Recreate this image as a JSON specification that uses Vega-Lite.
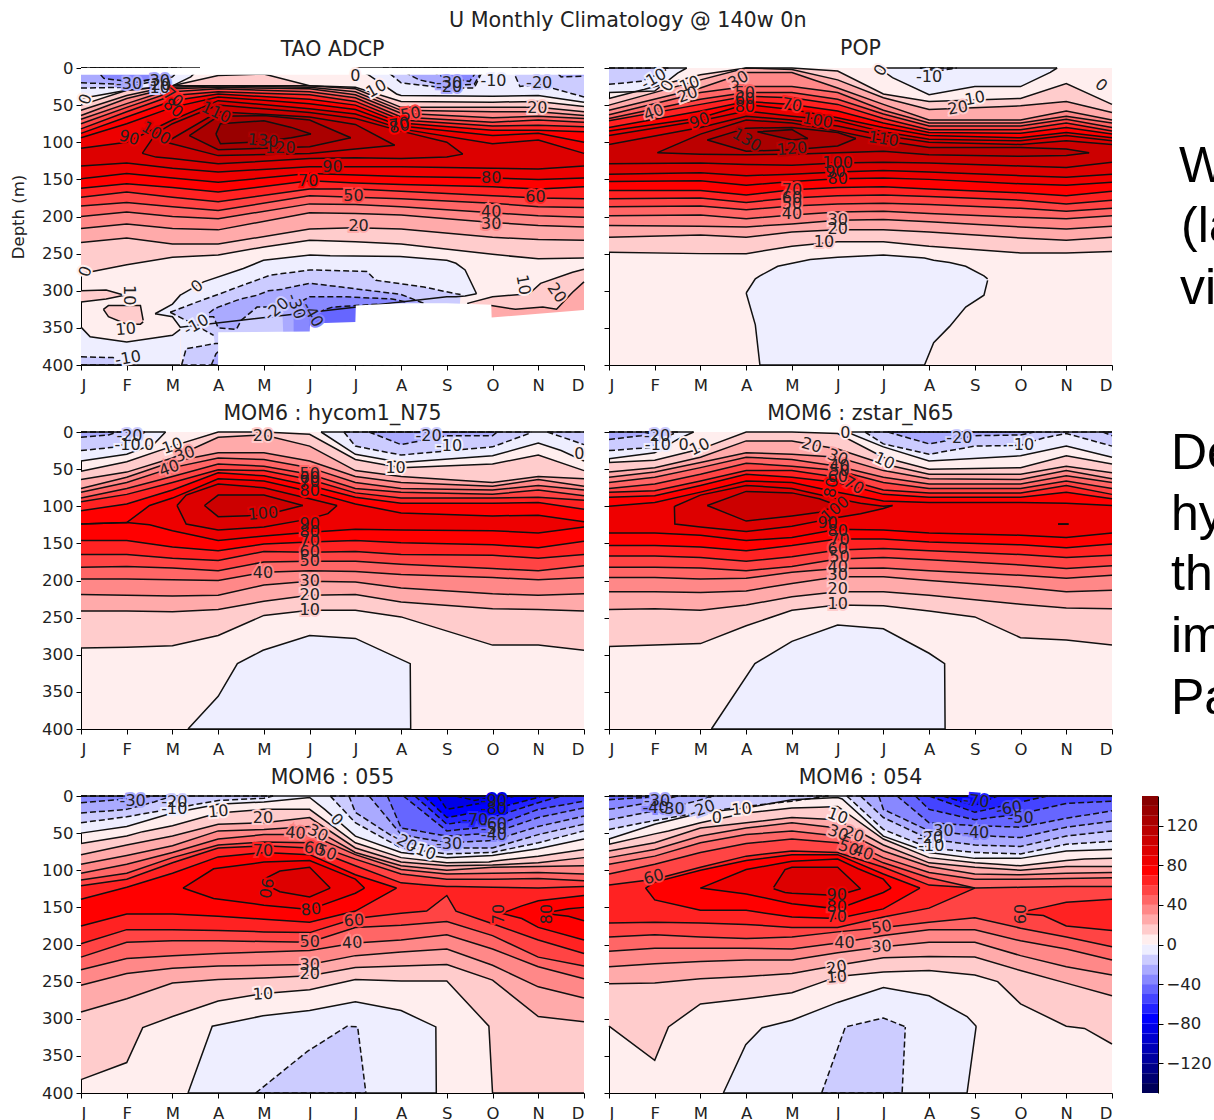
{"$schema":"https://vega.github.io/schema/vega-lite/v6.json","padding":{"left":10,"top":9,"right":0,"bottom":0},"title":{"text":"U Monthly Climatology @ 140w 0n","font":"DejaVu Sans","fontSize":20.7,"fontWeight":"normal","color":"#222","anchor":"middle","offset":8,"dx":15},"columns":3,"spacing":{"row":67,"column":25},"bounds":"flush","config":{"axis":{"labelFont":"DejaVu Sans","titleFont":"DejaVu Sans","labelFontSize":16.5,"titleFontSize":16.5,"titleFontWeight":"normal","grid":false,"tickColor":"#000","domainColor":"#000","labelColor":"#222","titleColor":"#222","tickSize":5,"labelPadding":3},"axisX":{"labelPadding":7},"title":{"font":"DejaVu Sans","fontSize":20.5,"fontWeight":"normal","color":"#222"},"view":{"stroke":null}},
"datasets":{
"mask":[{"s":"a","x":1,"t":0,"b":9},{"s":"a","x":12,"t":0,"b":9},{"s":"b","x":4,"t":356,"b":400},{"s":"b","x":6,"t":355,"b":400},{"s":"b","x":6.01,"t":344,"b":400},{"s":"b","x":7,"t":342,"b":400},{"s":"b","x":7.01,"t":320,"b":400},{"s":"b","x":8,"t":317,"b":400},{"s":"b","x":9,"t":317,"b":400},{"s":"b","x":9.97,"t":319,"b":400},{"s":"b","x":9.98,"t":336,"b":400},{"s":"b","x":11,"t":331,"b":400},{"s":"b","x":12,"t":326,"b":400}],
"cb":[{"c":-145,"l":-150,"h":-140},{"c":-135,"l":-140,"h":-130},{"c":-125,"l":-130,"h":-120},{"c":-115,"l":-120,"h":-110},{"c":-105,"l":-110,"h":-100},{"c":-95,"l":-100,"h":-90},{"c":-85,"l":-90,"h":-80},{"c":-75,"l":-80,"h":-70},{"c":-65,"l":-70,"h":-60},{"c":-55,"l":-60,"h":-50},{"c":-45,"l":-50,"h":-40},{"c":-35,"l":-40,"h":-30},{"c":-25,"l":-30,"h":-20},{"c":-15,"l":-20,"h":-10},{"c":-5,"l":-10,"h":0},{"c":5,"l":0,"h":10},{"c":15,"l":10,"h":20},{"c":25,"l":20,"h":30},{"c":35,"l":30,"h":40},{"c":45,"l":40,"h":50},{"c":55,"l":50,"h":60},{"c":65,"l":60,"h":70},{"c":75,"l":70,"h":80},{"c":85,"l":80,"h":90},{"c":95,"l":90,"h":100},{"c":105,"l":100,"h":110},{"c":115,"l":110,"h":120},{"c":125,"l":120,"h":130},{"c":135,"l":130,"h":140},{"c":145,"l":140,"h":150}],
"tx":[{"r":1,"x":42,"y":114,"k":"W"},{"r":1,"x":44,"y":174,"k":"(la"},{"r":1,"x":43,"y":236,"k":"vi"},{"r":2,"x":34,"y":37,"k":"De"},{"r":2,"x":34,"y":98,"k":"hy"},{"r":2,"x":34,"y":158,"k":"tha"},{"r":2,"x":34,"y":220,"k":"im"},{"r":2,"x":34,"y":282,"k":"Pa"}],
"l1":[{"x":2.05,"y":22,"k":"-30","c":-25,"a":0},{"x":2.72,"y":18,"k":"30","c":-25,"a":0},{"x":2.75,"y":23,"k":"20","c":-25,"a":0},{"x":2.72,"y":27,"k":"10","c":-15,"a":0},{"x":1.1,"y":42,"k":"0","c":5,"a":-70},{"x":3.01,"y":40,"k":"70","c":65,"a":40},{"x":3.01,"y":54,"k":"80","c":75,"a":40},{"x":3.95,"y":60,"k":"110","c":105,"a":25},{"x":2.64,"y":88,"k":"100","c":95,"a":30},{"x":2.05,"y":94,"k":"90","c":85,"a":15},{"x":4.98,"y":98,"k":"130","c":125,"a":5},{"x":5.36,"y":108,"k":"120","c":115,"a":0},{"x":6.5,"y":134,"k":"90","c":95,"a":0},{"x":9.97,"y":148,"k":"80","c":85,"a":0},{"x":5.97,"y":152,"k":"70","c":75,"a":0},{"x":10.94,"y":174,"k":"60","c":65,"a":0},{"x":6.96,"y":173,"k":"50","c":55,"a":0},{"x":9.97,"y":194,"k":"40","c":45,"a":0},{"x":9.97,"y":210,"k":"30","c":35,"a":0},{"x":7.07,"y":213,"k":"20","c":25,"a":0},{"x":7,"y":11,"k":"0","c":5,"a":0},{"x":7.46,"y":28,"k":"10","c":5,"a":-30},{"x":9.05,"y":20,"k":"-30","c":-25,"a":0},{"x":9.05,"y":25,"k":"-20","c":-25,"a":0},{"x":10.02,"y":18,"k":"-10","c":-5,"a":0},{"x":11.02,"y":20,"k":"-20","c":-15,"a":0},{"x":10.98,"y":54,"k":"20","c":15,"a":0},{"x":8.21,"y":62,"k":"50","c":55,"a":-10},{"x":7.96,"y":76,"k":"70","c":75,"a":-10},{"x":7.96,"y":79,"k":"80","c":75,"a":-10},{"x":1.1,"y":274,"k":"0","c":5,"a":-70},{"x":3.54,"y":294,"k":"0","c":5,"a":-40},{"x":2.06,"y":306,"k":"10","c":5,"a":90},{"x":1.98,"y":352,"k":"10","c":5,"a":-5},{"x":3.52,"y":346,"k":"-10","c":-5,"a":-30},{"x":2.03,"y":391,"k":"-10","c":-5,"a":-10},{"x":5.28,"y":325,"k":"-20","c":-15,"a":-40},{"x":5.7,"y":321,"k":"-30","c":-25,"a":70},{"x":6.06,"y":332,"k":"-40","c":-35,"a":60},{"x":10.67,"y":292,"k":"10","c":5,"a":80},{"x":11.4,"y":303,"k":"20","c":15,"a":55}],
"l2":[{"x":1.98,"y":15,"k":"-10","c":-5,"a":-30},{"x":2.28,"y":24,"k":"0","c":5,"a":-60},{"x":2.76,"y":22,"k":"10","c":5,"a":-20},{"x":2.72,"y":36,"k":"20","c":15,"a":-20},{"x":3.83,"y":16,"k":"30","c":25,"a":-30},{"x":3.97,"y":33,"k":"50","c":45,"a":0},{"x":3.97,"y":42,"k":"60","c":55,"a":0},{"x":3.97,"y":53,"k":"80","c":75,"a":0},{"x":1.98,"y":60,"k":"40","c":35,"a":-20},{"x":2.98,"y":71,"k":"90","c":85,"a":-20},{"x":5,"y":50,"k":"70","c":65,"a":10},{"x":5.56,"y":71,"k":"100","c":95,"a":10},{"x":7,"y":96,"k":"110","c":105,"a":8},{"x":4.01,"y":97,"k":"130","c":125,"a":30},{"x":5,"y":109,"k":"120","c":115,"a":-5},{"x":6,"y":128,"k":"100","c":95,"a":0},{"x":5.95,"y":140,"k":"90","c":85,"a":0},{"x":6,"y":149,"k":"80","c":75,"a":0},{"x":5,"y":164,"k":"70","c":65,"a":0},{"x":5,"y":175,"k":"60","c":55,"a":0},{"x":5,"y":183,"k":"50","c":45,"a":0},{"x":5,"y":196,"k":"40","c":35,"a":0},{"x":6,"y":205,"k":"30","c":25,"a":0},{"x":6,"y":217,"k":"20","c":15,"a":0},{"x":5.7,"y":235,"k":"10","c":15,"a":0},{"x":6.94,"y":3,"k":"0","c":5,"a":-60},{"x":8,"y":12,"k":"-10","c":-5,"a":0},{"x":8.63,"y":54,"k":"20","c":15,"a":-10},{"x":9,"y":41,"k":"10","c":5,"a":-10},{"x":11.76,"y":23,"k":"0","c":5,"a":40}],
"l3":[{"x":2.06,"y":5,"k":"-20","c":-15,"a":0},{"x":2.02,"y":17,"k":"-10","c":-5,"a":0},{"x":2.49,"y":17,"k":"0","c":5,"a":0},{"x":3,"y":19,"k":"10","c":5,"a":-20},{"x":3.27,"y":30,"k":"30","c":25,"a":-20},{"x":2.93,"y":49,"k":"40","c":35,"a":-20},{"x":4.98,"y":5,"k":"20","c":15,"a":0},{"x":4.98,"y":110,"k":"100","c":95,"a":-5},{"x":6,"y":57,"k":"50","c":45,"a":0},{"x":6,"y":62,"k":"60","c":55,"a":0},{"x":6,"y":68,"k":"70","c":65,"a":0},{"x":6,"y":80,"k":"80","c":75,"a":0},{"x":6,"y":124,"k":"90","c":85,"a":0},{"x":6,"y":135,"k":"80","c":75,"a":0},{"x":6,"y":147,"k":"70","c":65,"a":0},{"x":6,"y":161,"k":"60","c":55,"a":0},{"x":6,"y":174,"k":"50","c":45,"a":0},{"x":4.98,"y":190,"k":"40","c":35,"a":0},{"x":6,"y":201,"k":"30","c":25,"a":0},{"x":6,"y":220,"k":"20","c":15,"a":0},{"x":6,"y":240,"k":"10","c":15,"a":0},{"x":7.88,"y":48,"k":"10","c":5,"a":0},{"x":8.6,"y":5,"k":"-20","c":-15,"a":0},{"x":9.05,"y":19,"k":"-10","c":-5,"a":0},{"x":11.9,"y":30,"k":"0","c":5,"a":0}],
"l4":[{"x":2.05,"y":5,"k":"-20","c":-15,"a":0},{"x":2.07,"y":17,"k":"-10","c":-5,"a":0},{"x":2.63,"y":17,"k":"0","c":5,"a":0},{"x":2.98,"y":20,"k":"10","c":5,"a":-25},{"x":5.43,"y":18,"k":"20","c":15,"a":15},{"x":6.17,"y":2,"k":"0","c":5,"a":0},{"x":6,"y":34,"k":"30","c":25,"a":20},{"x":6.04,"y":46,"k":"40","c":35,"a":0},{"x":6.04,"y":52,"k":"50","c":45,"a":0},{"x":6,"y":61,"k":"60","c":55,"a":0},{"x":6.35,"y":72,"k":"70","c":65,"a":30},{"x":5.86,"y":75,"k":"80","c":75,"a":-80},{"x":5.95,"y":104,"k":"100","c":85,"a":-40},{"x":5.78,"y":122,"k":"90","c":85,"a":0},{"x":6,"y":133,"k":"80","c":75,"a":0},{"x":6.04,"y":145,"k":"70","c":65,"a":0},{"x":6,"y":157,"k":"60","c":55,"a":0},{"x":6.04,"y":169,"k":"50","c":45,"a":0},{"x":6,"y":182,"k":"40","c":35,"a":0},{"x":6,"y":193,"k":"30","c":25,"a":0},{"x":6,"y":212,"k":"20","c":15,"a":0},{"x":6,"y":232,"k":"10","c":15,"a":0},{"x":7.02,"y":39,"k":"10","c":5,"a":25},{"x":8.66,"y":8,"k":"-20","c":-15,"a":0},{"x":10.01,"y":18,"k":"-10","c":-5,"a":0}],
"l5":[{"x":2.13,"y":7,"k":"-30","c":-25,"a":0},{"x":3.04,"y":8,"k":"-20","c":-15,"a":0},{"x":3.04,"y":17,"k":"-10","c":-5,"a":0},{"x":4,"y":21,"k":"10","c":5,"a":-5},{"x":4.98,"y":29,"k":"20","c":15,"a":0},{"x":5.69,"y":50,"k":"40","c":35,"a":5},{"x":6.18,"y":50,"k":"30","c":25,"a":25},{"x":4.98,"y":74,"k":"70","c":65,"a":0},{"x":6.1,"y":71,"k":"60","c":55,"a":10},{"x":6.37,"y":76,"k":"50","c":45,"a":20},{"x":6.59,"y":32,"k":"0","c":-5,"a":45},{"x":8.07,"y":62,"k":"-20","c":-15,"a":30},{"x":8.48,"y":74,"k":"-10","c":-5,"a":20},{"x":9.05,"y":64,"k":"-30","c":-25,"a":0},{"x":9.62,"y":32,"k":"-70","c":-65,"a":0},{"x":10.03,"y":7,"k":"-90","c":-85,"a":0},{"x":10.03,"y":18,"k":"-80","c":-75,"a":0},{"x":10.03,"y":38,"k":"-60","c":-55,"a":0},{"x":10.03,"y":45,"k":"-50","c":-45,"a":0},{"x":10.03,"y":52,"k":"-40","c":-35,"a":0},{"x":5.04,"y":124,"k":"90","c":85,"a":100},{"x":6.03,"y":153,"k":"80","c":75,"a":-5},{"x":6.97,"y":168,"k":"60","c":55,"a":-5},{"x":6,"y":197,"k":"50","c":45,"a":0},{"x":6.93,"y":198,"k":"40","c":35,"a":-3},{"x":6,"y":227,"k":"30","c":25,"a":0},{"x":6,"y":240,"k":"20","c":15,"a":0},{"x":4.98,"y":267,"k":"10","c":5,"a":-3},{"x":10.15,"y":159,"k":"70","c":65,"a":-90},{"x":11.2,"y":159,"k":"80","c":75,"a":-90}],
"l6":[{"x":2.05,"y":7,"k":"-30","c":-25,"a":0},{"x":2.02,"y":16,"k":"-40","c":-35,"a":0},{"x":2.37,"y":17,"k":"-30","c":-25,"a":0},{"x":3.04,"y":18,"k":"-20","c":-15,"a":-20},{"x":3.36,"y":29,"k":"0","c":5,"a":0},{"x":3.9,"y":18,"k":"10","c":5,"a":-5},{"x":6,"y":27,"k":"10","c":5,"a":20},{"x":6.35,"y":52,"k":"20","c":25,"a":20},{"x":6.01,"y":50,"k":"30","c":25,"a":20},{"x":6.24,"y":70,"k":"50","c":45,"a":20},{"x":6.56,"y":76,"k":"40","c":45,"a":20},{"x":1.98,"y":109,"k":"60","c":55,"a":-15},{"x":5.98,"y":134,"k":"90","c":85,"a":0},{"x":5.98,"y":150,"k":"80","c":75,"a":0},{"x":5.98,"y":163,"k":"70","c":65,"a":0},{"x":6.96,"y":177,"k":"50","c":45,"a":-10},{"x":6.15,"y":198,"k":"40","c":35,"a":0},{"x":6.96,"y":203,"k":"30","c":25,"a":-5},{"x":5.98,"y":231,"k":"20","c":15,"a":-10},{"x":5.98,"y":244,"k":"10","c":15,"a":-5},{"x":9.03,"y":7,"k":"-70","c":-65,"a":5},{"x":9.75,"y":17,"k":"-60","c":-55,"a":-10},{"x":10,"y":30,"k":"-50","c":-45,"a":0},{"x":9.03,"y":50,"k":"-40","c":-35,"a":0},{"x":8.25,"y":47,"k":"-30","c":-25,"a":0},{"x":8.02,"y":56,"k":"-20","c":-15,"a":0},{"x":8.05,"y":67,"k":"-10","c":-5,"a":0},{"x":10,"y":159,"k":"60","c":55,"a":-90}],
"p1":[
{"c":15,"x":1,"t":50,"b":277},{"c":15,"x":2,"t":30,"b":265},{"c":15,"x":3,"t":24,"b":255},{"c":15,"x":4,"t":10,"b":252},{"c":15,"x":5,"t":8,"b":241},{"c":15,"x":6,"t":24,"b":232},{"c":15,"x":7,"t":26,"b":234},{"c":15,"x":8,"t":45,"b":237},{"c":15,"x":10,"t":46,"b":251},{"c":15,"x":11,"t":45,"b":257},{"c":15,"x":12,"t":52,"b":256},
{"c":25,"x":1,"t":57,"b":235},{"c":25,"x":2,"t":37,"b":229},{"c":25,"x":3,"t":24,"b":237},{"c":25,"x":4,"t":24,"b":237},{"c":25,"x":6,"t":24,"b":217},{"c":25,"x":7,"t":28,"b":215},{"c":25,"x":8,"t":53,"b":217},{"c":25,"x":10,"t":53,"b":228},{"c":25,"x":11,"t":53,"b":231},{"c":25,"x":12,"t":59,"b":232},
{"c":35,"x":1,"t":64,"b":216},{"c":35,"x":2,"t":41,"b":210},{"c":35,"x":3,"t":26,"b":216},{"c":35,"x":4,"t":24,"b":218},{"c":35,"x":6,"t":26,"b":195},{"c":35,"x":7,"t":32,"b":196},{"c":35,"x":8,"t":57,"b":198},{"c":35,"x":10,"t":59,"b":208},{"c":35,"x":11,"t":59,"b":212},{"c":35,"x":12,"t":64,"b":214},
{"c":45,"x":1,"t":69,"b":200},{"c":45,"x":2,"t":48,"b":194},{"c":45,"x":3,"t":28,"b":200},{"c":45,"x":4,"t":26,"b":203},{"c":45,"x":6,"t":28,"b":183},{"c":45,"x":7,"t":36,"b":184},{"c":45,"x":8,"t":61,"b":187},{"c":45,"x":10,"t":67,"b":195},{"c":45,"x":11,"t":65,"b":199},{"c":45,"x":12,"t":68,"b":201},
{"c":55,"x":1,"t":75,"b":186},{"c":55,"x":2,"t":53,"b":181},{"c":55,"x":3,"t":32,"b":187},{"c":55,"x":4,"t":28,"b":192},{"c":55,"x":6,"t":32,"b":172},{"c":55,"x":7,"t":40,"b":174},{"c":55,"x":8,"t":66,"b":176},{"c":55,"x":10,"t":73,"b":182},{"c":55,"x":11,"t":70,"b":187},{"c":55,"x":12,"t":73,"b":188},
{"c":65,"x":1,"t":82,"b":174},{"c":65,"x":2,"t":59,"b":167},{"c":65,"x":3,"t":37,"b":174},{"c":65,"x":4,"t":32,"b":180},{"c":65,"x":6,"t":36,"b":163},{"c":65,"x":7,"t":45,"b":163},{"c":65,"x":8,"t":70,"b":166},{"c":65,"x":10,"t":78,"b":172},{"c":65,"x":11,"t":77,"b":175},{"c":65,"x":12,"t":79,"b":176},
{"c":75,"x":1,"t":88,"b":162},{"c":75,"x":2,"t":66,"b":156},{"c":75,"x":3,"t":44,"b":161},{"c":75,"x":4,"t":35,"b":167},{"c":75,"x":6,"t":42,"b":152},{"c":75,"x":7,"t":50,"b":155},{"c":75,"x":8,"t":74,"b":157},{"c":75,"x":10,"t":84,"b":160},{"c":75,"x":11,"t":84,"b":163},{"c":75,"x":12,"t":86,"b":160},
{"c":85,"x":1,"t":94,"b":149},{"c":85,"x":2,"t":75,"b":142},{"c":85,"x":3,"t":53,"b":148},{"c":85,"x":4,"t":39,"b":154},{"c":85,"x":6,"t":48,"b":142},{"c":85,"x":7,"t":56,"b":144},{"c":85,"x":8,"t":78,"b":146},{"c":85,"x":10,"t":91,"b":148},{"c":85,"x":11,"t":88,"b":150},{"c":85,"x":12,"t":100,"b":148},
{"c":95,"x":1,"t":108,"b":132},{"c":95,"x":2,"t":100,"b":128},{"c":95,"x":3,"t":70,"b":135},{"c":95,"x":4,"t":44,"b":140},{"c":95,"x":6,"t":55,"b":133},{"c":95,"x":7,"t":62,"b":133},{"c":95,"x":8,"t":82,"b":133},{"c":95,"x":10,"t":102,"b":135},{"c":95,"x":11,"t":97,"b":136},{"c":95,"x":12,"t":115,"b":132},
{"c":105,"x":2.34,"t":115,"b":115},{"c":105,"x":2.64,"t":88,"b":120},{"c":105,"x":3,"t":75,"b":122},{"c":105,"x":4,"t":50,"b":129},{"c":105,"x":6,"t":60,"b":122},{"c":105,"x":7,"t":68,"b":121},{"c":105,"x":8,"t":85,"b":122},{"c":105,"x":9,"t":100,"b":120},{"c":105,"x":9.35,"t":116,"b":116},
{"c":115,"x":2.86,"t":100,"b":100},{"c":115,"x":4,"t":59,"b":118},{"c":115,"x":6,"t":66,"b":115},{"c":115,"x":7,"t":76,"b":109},{"c":115,"x":7.86,"t":104,"b":104},
{"c":125,"x":3.37,"t":91,"b":91},{"c":125,"x":4,"t":65,"b":110},{"c":125,"x":5,"t":64,"b":108},{"c":125,"x":6,"t":70,"b":106},{"c":125,"x":6.9,"t":94,"b":94},
{"c":135,"x":3.95,"t":89,"b":89},{"c":135,"x":4.05,"t":75,"b":102},{"c":135,"x":5,"t":71,"b":99},{"c":135,"x":5.6,"t":80,"b":94},{"c":135,"x":6.03,"t":89,"b":89},
{"c":15,"s":"w","x":1,"t":300,"b":315},{"c":15,"s":"w","x":1.55,"t":299,"b":311},{"c":15,"s":"w","x":1.95,"t":306,"b":306},
{"c":15,"s":"q","x":1.49,"t":325,"b":325},{"c":15,"s":"q","x":1.6,"t":320,"b":335},{"c":15,"s":"q","x":2,"t":320,"b":345},{"c":15,"s":"q","x":2.3,"t":320,"b":345},{"c":15,"s":"q","x":2.36,"t":340,"b":342},
{"c":15,"s":"r","x":9.45,"t":317,"b":317},{"c":15,"s":"r","x":10,"t":308,"b":345},{"c":15,"s":"r","x":10.8,"t":304,"b":345},{"c":15,"s":"r","x":11.05,"t":290,"b":345},{"c":15,"s":"r","x":11.75,"t":275,"b":345},{"c":15,"s":"r","x":12,"t":271,"b":345},
{"c":25,"s":"r","x":9.97,"t":320,"b":340},{"c":25,"s":"r","x":10.5,"t":325,"b":340},{"c":25,"s":"r","x":11.1,"t":322,"b":340},{"c":25,"s":"r","x":11.4,"t":325,"b":340},{"c":25,"s":"r","x":11.75,"t":302,"b":340},{"c":25,"s":"r","x":12,"t":288,"b":340},
{"c":-5,"s":"a","x":1,"t":0,"b":41},{"c":-5,"s":"a","x":2,"t":0,"b":30},{"c":-5,"s":"a","x":3,"t":0,"b":24},{"c":-5,"s":"a","x":3.4,"t":0,"b":12},{"c":-5,"s":"a","x":3.6,"t":0,"b":0},
{"c":-5,"s":"b","x":7,"t":0,"b":0},{"c":-5,"s":"b","x":7.28,"t":0,"b":9},{"c":-5,"s":"b","x":7.9,"t":0,"b":35},{"c":-5,"s":"b","x":8,"t":0,"b":37},{"c":-5,"s":"b","x":10,"t":0,"b":38},{"c":-5,"s":"b","x":11,"t":0,"b":37},{"c":-5,"s":"b","x":12,"t":0,"b":46},
{"c":-5,"s":"d","x":1,"t":349,"b":400},{"c":-5,"s":"d","x":1.2,"t":362,"b":400},{"c":-5,"s":"d","x":2,"t":369,"b":400},{"c":-5,"s":"d","x":3,"t":360,"b":400},{"c":-5,"s":"d","x":3.17,"t":352,"b":400},
{"c":-5,"s":"e","x":2.62,"t":331,"b":331},{"c":-5,"s":"e","x":3,"t":318,"b":335},{"c":-5,"s":"e","x":3.17,"t":306,"b":349},{"c":-5,"s":"e","n":1,"x":3.2,"t":305,"b":400},{"c":-5,"s":"e","n":1,"x":3.68,"t":288,"b":400},{"c":-5,"s":"e","n":1,"x":4.55,"t":270,"b":400},{"c":-5,"s":"e","n":1,"x":4.99,"t":259,"b":400},{"c":-5,"s":"e","n":1,"x":6.01,"t":252,"b":400},{"c":-5,"s":"e","n":1,"x":6.45,"t":253,"b":400},{"c":-5,"s":"e","n":1,"x":7.98,"t":254,"b":400},{"c":-5,"s":"e","n":1,"x":8.99,"t":259,"b":400},{"c":-5,"s":"e","x":9,"t":259,"b":308},{"c":-5,"s":"e","x":9.2,"t":263,"b":308},{"c":-5,"s":"e","x":9.4,"t":272,"b":307},{"c":-5,"s":"e","x":9.65,"t":304,"b":304},
{"c":-15,"s":"a","x":1,"t":0,"b":27},{"c":-15,"s":"a","x":2,"t":0,"b":26},{"c":-15,"s":"a","x":3,"t":0,"b":12},{"c":-15,"s":"a","x":3.2,"t":0,"b":0},
{"c":-15,"s":"b","x":7.6,"t":0,"b":0},{"c":-15,"s":"b","x":8,"t":0,"b":20},{"c":-15,"s":"b","x":9,"t":0,"b":27},{"c":-15,"s":"b","x":9.6,"t":0,"b":27},{"c":-15,"s":"b","x":9.74,"t":0,"b":9},{"c":-15,"s":"b","x":9.9,"t":0,"b":0},
{"c":-15,"s":"c","x":10.42,"t":0,"b":0},{"c":-15,"s":"c","x":10.6,"t":0,"b":25},{"c":-15,"s":"c","x":11,"t":0,"b":22},{"c":-15,"s":"c","x":12,"t":0,"b":39},
{"c":-15,"s":"e","x":2.95,"t":329,"b":329},{"c":-15,"s":"e","x":3.46,"t":317,"b":345},{"c":-15,"s":"e","x":3.9,"t":307,"b":360},{"c":-15,"s":"e","n":1,"x":4,"t":305,"b":400},{"c":-15,"s":"e","n":1,"x":4.34,"t":297,"b":400},{"c":-15,"s":"e","n":1,"x":5.14,"t":279,"b":400},{"c":-15,"s":"e","n":1,"x":6.01,"t":272,"b":400},{"c":-15,"s":"e","n":1,"x":6.65,"t":273,"b":400},{"c":-15,"s":"e","n":1,"x":7.25,"t":274,"b":400},{"c":-15,"s":"e","n":1,"x":7.45,"t":286,"b":400},{"c":-15,"s":"e","n":1,"x":8.5,"t":295,"b":400},{"c":-15,"s":"e","n":1,"x":9.2,"t":304,"b":400},{"c":-15,"s":"e","n":1,"x":9.3,"t":305,"b":305},
{"c":-15,"s":"f","x":3.2,"t":400,"b":400},{"c":-15,"s":"f","x":3.3,"t":378,"b":400},{"c":-15,"s":"f","x":3.95,"t":371,"b":400},{"c":-15,"s":"f","x":4,"t":371,"b":400},
{"c":-15,"s":"g","x":1,"t":389,"b":400},{"c":-15,"s":"g","x":1.7,"t":390,"b":400},{"c":-15,"s":"g","x":2,"t":400,"b":400},
{"c":-25,"s":"a","x":1,"t":0,"b":20},{"c":-25,"s":"a","x":2,"t":0,"b":22},{"c":-25,"s":"a","x":2.8,"t":0,"b":12},{"c":-25,"s":"a","x":3,"t":0,"b":0},
{"c":-25,"s":"b","x":7.9,"t":0,"b":0},{"c":-25,"s":"b","x":8.4,"t":0,"b":16},{"c":-25,"s":"b","x":9,"t":0,"b":24},{"c":-25,"s":"b","x":9.6,"t":0,"b":22},{"c":-25,"s":"b","x":9.8,"t":0,"b":0},
{"c":-25,"s":"c","x":11.3,"t":0,"b":0},{"c":-25,"s":"c","x":11.5,"t":0,"b":12},{"c":-25,"s":"c","x":12,"t":0,"b":11},
{"c":-25,"s":"e","x":3.8,"t":330,"b":335},{"c":-25,"s":"e","x":3.9,"t":325,"b":335},{"c":-25,"s":"e","x":4,"t":322,"b":350},{"c":-25,"s":"e","x":4.4,"t":313,"b":352},{"c":-25,"s":"e","x":4.5,"t":311,"b":340},{"c":-25,"s":"e","x":4.85,"t":306,"b":322},{"c":-25,"s":"e","x":5.1,"t":300,"b":322},{"c":-25,"s":"e","x":5.4,"t":298,"b":322},{"c":-25,"s":"e","n":1,"x":5.45,"t":297,"b":400},{"c":-25,"s":"e","n":1,"x":6,"t":290,"b":400},{"c":-25,"s":"e","n":1,"x":6.7,"t":295,"b":400},{"c":-25,"s":"e","n":1,"x":8,"t":305,"b":400},{"c":-25,"s":"e","n":1,"x":8.5,"t":317,"b":400},
{"c":-25,"s":"f","x":3.85,"t":400,"b":400},{"c":-25,"s":"f","x":3.95,"t":385,"b":400},{"c":-25,"s":"f","x":4,"t":382,"b":400},
{"c":-35,"s":"a","x":1.3,"t":0,"b":0},{"c":-35,"s":"a","x":1.5,"t":0,"b":14},{"c":-35,"s":"a","x":2,"t":0,"b":18},{"c":-35,"s":"a","x":2.6,"t":0,"b":16},{"c":-35,"s":"a","x":2.8,"t":0,"b":0},
{"c":-35,"s":"b","x":8.5,"t":0,"b":0},{"c":-35,"s":"b","x":9,"t":0,"b":14},{"c":-35,"s":"b","x":9.5,"t":0,"b":18},{"c":-35,"s":"b","x":9.7,"t":0,"b":0},
{"c":-35,"s":"e","x":5.65,"t":320,"b":400},{"c":-35,"s":"e","x":6,"t":308,"b":400},{"c":-35,"s":"e","x":6.7,"t":308,"b":400},{"c":-35,"s":"e","x":7.8,"t":311,"b":400},{"c":-35,"s":"e","x":8.1,"t":315,"b":400},
{"c":-45,"s":"e","x":6,"t":332,"b":400},{"c":-45,"s":"e","x":6.5,"t":322,"b":400},{"c":-45,"s":"e","x":7,"t":320,"b":400},{"c":-45,"s":"e","x":7.5,"t":318,"b":400}],
"p2":[
{"c":15,"x":1,"t":41,"b":248},{"c":15,"x":3,"t":9,"b":250},{"c":15,"x":4,"t":0,"b":250},{"c":15,"x":5,"t":0,"b":240},{"c":15,"x":6,"t":4,"b":234},{"c":15,"x":7,"t":35,"b":234},{"c":15,"x":8,"t":45,"b":240},{"c":15,"x":10,"t":41,"b":249},{"c":15,"x":11,"t":21,"b":249},{"c":15,"x":12,"t":49,"b":247},
{"c":25,"x":1,"t":50,"b":228},{"c":25,"x":3,"t":16,"b":225},{"c":25,"x":4,"t":0,"b":228},{"c":25,"x":5,"t":2,"b":221},{"c":25,"x":6,"t":16,"b":218},{"c":25,"x":7,"t":40,"b":218},{"c":25,"x":8,"t":56,"b":221},{"c":25,"x":10,"t":51,"b":229},{"c":25,"x":11,"t":45,"b":232},{"c":25,"x":12,"t":60,"b":228},
{"c":35,"x":1,"t":57,"b":212},{"c":35,"x":3,"t":27,"b":213},{"c":35,"x":4,"t":6,"b":214},{"c":35,"x":5,"t":6,"b":210},{"c":35,"x":6,"t":27,"b":205},{"c":35,"x":7,"t":49,"b":204},{"c":35,"x":8,"t":70,"b":207},{"c":35,"x":10,"t":70,"b":214},{"c":35,"x":11,"t":58,"b":217},{"c":35,"x":12,"t":70,"b":213},
{"c":45,"x":1,"t":63,"b":199},{"c":45,"x":3,"t":33,"b":198},{"c":45,"x":4,"t":25,"b":203},{"c":45,"x":5,"t":25,"b":198},{"c":45,"x":6,"t":33,"b":194},{"c":45,"x":7,"t":57,"b":193},{"c":45,"x":8,"t":74,"b":196},{"c":45,"x":10,"t":74,"b":201},{"c":45,"x":11,"t":65,"b":203},{"c":45,"x":12,"t":74,"b":199},
{"c":55,"x":1,"t":68,"b":187},{"c":55,"x":3,"t":42,"b":186},{"c":55,"x":4,"t":33,"b":191},{"c":55,"x":5,"t":33,"b":186},{"c":55,"x":6,"t":42,"b":183},{"c":55,"x":7,"t":62,"b":182},{"c":55,"x":8,"t":78,"b":184},{"c":55,"x":10,"t":78,"b":189},{"c":55,"x":11,"t":69,"b":193},{"c":55,"x":12,"t":80,"b":189},
{"c":65,"x":1,"t":71,"b":176},{"c":65,"x":3,"t":49,"b":175},{"c":65,"x":4,"t":38,"b":181},{"c":65,"x":5,"t":40,"b":175},{"c":65,"x":6,"t":49,"b":172},{"c":65,"x":7,"t":68,"b":171},{"c":65,"x":8,"t":83,"b":173},{"c":65,"x":10,"t":83,"b":178},{"c":65,"x":11,"t":74,"b":183},{"c":65,"x":12,"t":85,"b":178},
{"c":75,"x":1,"t":80,"b":165},{"c":75,"x":3,"t":58,"b":165},{"c":75,"x":4,"t":45,"b":171},{"c":75,"x":5,"t":49,"b":164},{"c":75,"x":6,"t":58,"b":161},{"c":75,"x":7,"t":74,"b":160},{"c":75,"x":8,"t":87,"b":163},{"c":75,"x":10,"t":88,"b":168},{"c":75,"x":11,"t":80,"b":172},{"c":75,"x":12,"t":89,"b":166},
{"c":85,"x":1,"t":85,"b":153},{"c":85,"x":3,"t":67,"b":152},{"c":85,"x":4,"t":49,"b":158},{"c":85,"x":5,"t":56,"b":153},{"c":85,"x":6,"t":67,"b":149},{"c":85,"x":7,"t":80,"b":148},{"c":85,"x":8,"t":91,"b":150},{"c":85,"x":10,"t":94,"b":156},{"c":85,"x":11,"t":87,"b":158},{"c":85,"x":12,"t":94,"b":154},
{"c":95,"x":1,"t":91,"b":143},{"c":95,"x":3,"t":71,"b":141},{"c":95,"x":4,"t":58,"b":145},{"c":95,"x":5,"t":65,"b":143},{"c":95,"x":6,"t":71,"b":140},{"c":95,"x":7,"t":86,"b":138},{"c":95,"x":8,"t":96,"b":140},{"c":95,"x":10,"t":98,"b":145},{"c":95,"x":11,"t":91,"b":147},{"c":95,"x":12,"t":98,"b":143},
{"c":105,"x":1,"t":103,"b":129},{"c":105,"x":3,"t":80,"b":128},{"c":105,"x":4,"t":65,"b":130},{"c":105,"x":5,"t":70,"b":131},{"c":105,"x":6,"t":78,"b":128},{"c":105,"x":7,"t":91,"b":127},{"c":105,"x":8,"t":100,"b":128},{"c":105,"x":10,"t":103,"b":132},{"c":105,"x":11,"t":98,"b":134},{"c":105,"x":12,"t":103,"b":127},
{"c":115,"x":2.06,"t":114,"b":114},{"c":115,"x":3,"t":89,"b":116},{"c":115,"x":4,"t":70,"b":117},{"c":115,"x":5,"t":74,"b":116},{"c":115,"x":6,"t":85,"b":114},{"c":115,"x":7,"t":98,"b":112},{"c":115,"x":8,"t":107,"b":117},{"c":115,"x":10,"t":107,"b":119},{"c":115,"x":11,"t":109,"b":118},{"c":115,"x":11.5,"t":114,"b":114},
{"c":125,"x":3.15,"t":97,"b":97},{"c":125,"x":4,"t":81,"b":112},{"c":125,"x":5,"t":80,"b":110},{"c":125,"x":6,"t":87,"b":105},{"c":125,"x":6.4,"t":95,"b":95},
{"c":135,"x":4.25,"t":86,"b":86},{"c":135,"x":5,"t":83,"b":97},{"c":135,"x":5.35,"t":95,"b":95},
{"c":-5,"s":"a","x":1,"t":0,"b":33},{"c":-5,"s":"a","x":2,"t":0,"b":31},{"c":-5,"s":"a","x":2.5,"t":0,"b":7},{"c":-5,"s":"a","x":2.7,"t":0,"b":0},
{"c":-5,"s":"b","x":6.9,"t":0,"b":0},{"c":-5,"s":"b","x":7.2,"t":0,"b":13},{"c":-5,"s":"b","x":8,"t":0,"b":36},{"c":-5,"s":"b","x":9,"t":0,"b":25},{"c":-5,"s":"b","x":10,"t":0,"b":25},{"c":-5,"s":"b","x":10.65,"t":0,"b":6},{"c":-5,"s":"b","x":10.8,"t":0,"b":0},
{"c":-5,"s":"c","x":4,"t":303,"b":303},{"c":-5,"s":"c","x":4.2,"t":284,"b":346},{"c":-5,"s":"c","x":4.3,"t":280,"b":400},{"c":-5,"s":"c","x":4.69,"t":267,"b":400},{"c":-5,"s":"c","x":5.4,"t":258,"b":400},{"c":-5,"s":"c","x":6,"t":255,"b":400},{"c":-5,"s":"c","x":7,"t":252,"b":400},{"c":-5,"s":"c","x":7.9,"t":256,"b":400},{"c":-5,"s":"c","x":8.1,"t":259,"b":370},{"c":-5,"s":"c","x":8.45,"t":262,"b":348},{"c":-5,"s":"c","x":8.8,"t":267,"b":322},{"c":-5,"s":"c","x":9.2,"t":280,"b":306},{"c":-5,"s":"c","x":9.28,"t":284,"b":286},
{"c":-15,"s":"a","x":1,"t":0,"b":22},{"c":-15,"s":"a","x":1.7,"t":0,"b":18},{"c":-15,"s":"a","x":2.1,"t":0,"b":8},{"c":-15,"s":"a","x":2.3,"t":0,"b":0},
{"c":-15,"s":"b","x":7.8,"t":0,"b":0},{"c":-15,"s":"b","x":8.2,"t":0,"b":4},{"c":-15,"s":"b","x":8.6,"t":0,"b":0}],
"p3":[
{"c":15,"x":1,"t":53,"b":291},{"c":15,"x":2,"t":40,"b":290},{"c":15,"x":3,"t":19,"b":288},{"c":15,"x":4,"t":0,"b":274},{"c":15,"x":5,"t":0,"b":247},{"c":15,"x":6,"t":3,"b":240},{"c":15,"x":7,"t":37,"b":240},{"c":15,"x":8,"t":48,"b":249},{"c":15,"x":10,"t":43,"b":287},{"c":15,"x":11,"t":31,"b":287},{"c":15,"x":12,"t":52,"b":294},
{"c":25,"x":1,"t":64,"b":241},{"c":25,"x":2,"t":54,"b":241},{"c":25,"x":3,"t":35,"b":242},{"c":25,"x":4,"t":7,"b":239},{"c":25,"x":5,"t":4,"b":228},{"c":25,"x":6,"t":19,"b":220},{"c":25,"x":7,"t":52,"b":219},{"c":25,"x":8,"t":60,"b":229},{"c":25,"x":10,"t":68,"b":238},{"c":25,"x":11,"t":60,"b":239},{"c":25,"x":12,"t":63,"b":241},
{"c":35,"x":1,"t":76,"b":219},{"c":35,"x":2,"t":61,"b":220},{"c":35,"x":3,"t":40,"b":221},{"c":35,"x":4,"t":28,"b":220},{"c":35,"x":5,"t":28,"b":206},{"c":35,"x":6,"t":39,"b":201},{"c":35,"x":7,"t":60,"b":202},{"c":35,"x":8,"t":68,"b":210},{"c":35,"x":10,"t":73,"b":218},{"c":35,"x":11,"t":64,"b":220},{"c":35,"x":12,"t":73,"b":218},
{"c":45,"x":1,"t":81,"b":198},{"c":45,"x":2,"t":68,"b":198},{"c":45,"x":3,"t":48,"b":199},{"c":45,"x":4,"t":35,"b":200},{"c":45,"x":5,"t":37,"b":189},{"c":45,"x":6,"t":48,"b":187},{"c":45,"x":7,"t":68,"b":188},{"c":45,"x":8,"t":76,"b":192},{"c":45,"x":10,"t":78,"b":196},{"c":45,"x":11,"t":72,"b":199},{"c":45,"x":12,"t":78,"b":196},
{"c":55,"x":1,"t":89,"b":182},{"c":55,"x":2,"t":76,"b":181},{"c":55,"x":3,"t":60,"b":183},{"c":55,"x":4,"t":43,"b":187},{"c":55,"x":5,"t":46,"b":175},{"c":55,"x":6,"t":57,"b":174},{"c":55,"x":7,"t":76,"b":174},{"c":55,"x":8,"t":81,"b":178},{"c":55,"x":10,"t":84,"b":184},{"c":55,"x":11,"t":78,"b":187},{"c":55,"x":12,"t":86,"b":180},
{"c":65,"x":1,"t":94,"b":165},{"c":65,"x":2,"t":84,"b":165},{"c":65,"x":3,"t":68,"b":170},{"c":65,"x":4,"t":51,"b":173},{"c":65,"x":5,"t":52,"b":161},{"c":65,"x":6,"t":64,"b":162},{"c":65,"x":7,"t":82,"b":161},{"c":65,"x":8,"t":89,"b":165},{"c":65,"x":10,"t":89,"b":166},{"c":65,"x":11,"t":88,"b":170},{"c":65,"x":12,"t":92,"b":165},
{"c":75,"x":1,"t":106,"b":146},{"c":75,"x":2,"t":97,"b":146},{"c":75,"x":3,"t":78,"b":155},{"c":75,"x":4,"t":55,"b":160},{"c":75,"x":5,"t":59,"b":151},{"c":75,"x":6,"t":72,"b":148},{"c":75,"x":7,"t":88,"b":146},{"c":75,"x":8,"t":96,"b":149},{"c":75,"x":10,"t":96,"b":152},{"c":75,"x":11,"t":95,"b":156},{"c":75,"x":12,"t":104,"b":147},
{"c":85,"x":1,"t":124,"b":124},{"c":85,"x":2,"t":122,"b":122},{"c":85,"x":2.5,"t":99,"b":125},{"c":85,"x":3,"t":89,"b":133},{"c":85,"x":4,"t":63,"b":146},{"c":85,"x":5,"t":66,"b":140},{"c":85,"x":6,"t":80,"b":135},{"c":85,"x":7,"t":97,"b":131},{"c":85,"x":8,"t":109,"b":132},{"c":85,"x":10,"t":113,"b":133},{"c":85,"x":11,"t":112,"b":136},{"c":85,"x":12,"t":121,"b":128},
{"c":95,"x":3.1,"t":99,"b":99},{"c":95,"x":3.3,"t":85,"b":124},{"c":95,"x":4,"t":70,"b":132},{"c":95,"x":5,"t":75,"b":128},{"c":95,"x":6,"t":90,"b":117},{"c":95,"x":6.4,"t":96,"b":110},{"c":95,"x":6.6,"t":99,"b":99},
{"c":105,"x":3.7,"t":99,"b":99},{"c":105,"x":4,"t":85,"b":114},{"c":105,"x":5,"t":85,"b":112},{"c":105,"x":5.85,"t":99,"b":99},
{"c":-5,"s":"a","x":1,"t":0,"b":39},{"c":-5,"s":"a","x":2,"t":0,"b":30},{"c":-5,"s":"a","x":2.6,"t":0,"b":16},{"c":-5,"s":"a","x":2.85,"t":0,"b":0},
{"c":-5,"s":"b","x":6.25,"t":0,"b":0},{"c":-5,"s":"b","x":7,"t":0,"b":30},{"c":-5,"s":"b","x":8,"t":0,"b":41},{"c":-5,"s":"b","x":10,"t":0,"b":32},{"c":-5,"s":"b","x":11,"t":0,"b":15},{"c":-5,"s":"b","x":11.5,"t":0,"b":25},{"c":-5,"s":"b","x":12,"t":0,"b":39},
{"c":-5,"s":"c","x":3.34,"t":400,"b":400},{"c":-5,"s":"c","x":4,"t":356,"b":400},{"c":-5,"s":"c","x":4.42,"t":312,"b":400},{"c":-5,"s":"c","x":4.98,"t":294,"b":400},{"c":-5,"s":"c","x":6,"t":274,"b":400},{"c":-5,"s":"c","x":7,"t":278,"b":400},{"c":-5,"s":"c","x":8.2,"t":312,"b":400},{"c":-5,"s":"c","x":8.21,"t":400,"b":400},
{"c":-15,"s":"a","x":1,"t":0,"b":25},{"c":-15,"s":"a","x":1.8,"t":0,"b":20},{"c":-15,"s":"a","x":2.2,"t":0,"b":8},{"c":-15,"s":"a","x":2.4,"t":0,"b":0},
{"c":-15,"s":"b","x":6.75,"t":0,"b":0},{"c":-15,"s":"b","x":7,"t":0,"b":19},{"c":-15,"s":"b","x":8,"t":0,"b":31},{"c":-15,"s":"b","x":10,"t":0,"b":20},{"c":-15,"s":"b","x":10.8,"t":0,"b":2},{"c":-15,"s":"b","x":10.85,"t":0,"b":0},
{"c":-15,"s":"c","x":11.2,"t":0,"b":0},{"c":-15,"s":"c","x":12,"t":0,"b":17},
{"c":-25,"s":"a","x":1,"t":0,"b":7},{"c":-25,"s":"a","x":1.6,"t":0,"b":4},{"c":-25,"s":"a","x":1.8,"t":0,"b":0},
{"c":-25,"s":"b","x":7.3,"t":0,"b":0},{"c":-25,"s":"b","x":8,"t":0,"b":17},{"c":-25,"s":"b","x":9,"t":0,"b":5},{"c":-25,"s":"b","x":10,"t":0,"b":5},{"c":-25,"s":"b","x":10.1,"t":0,"b":0}],
"p4":[
{"c":15,"x":1,"t":41,"b":289},{"c":15,"x":2,"t":38,"b":287},{"c":15,"x":3,"t":23,"b":285},{"c":15,"x":4,"t":0,"b":261},{"c":15,"x":5,"t":0,"b":240},{"c":15,"x":6,"t":2,"b":233},{"c":15,"x":7,"t":34,"b":234},{"c":15,"x":8,"t":50,"b":241},{"c":15,"x":9,"t":49,"b":249},{"c":15,"x":10,"t":48,"b":277},{"c":15,"x":11,"t":32,"b":280},{"c":15,"x":12,"t":43,"b":287},
{"c":25,"x":1,"t":54,"b":239},{"c":25,"x":2,"t":48,"b":238},{"c":25,"x":3,"t":34,"b":240},{"c":25,"x":4,"t":12,"b":233},{"c":25,"x":5,"t":12,"b":222},{"c":25,"x":6,"t":23,"b":215},{"c":25,"x":7,"t":43,"b":215},{"c":25,"x":8,"t":57,"b":220},{"c":25,"x":10,"t":57,"b":232},{"c":25,"x":11,"t":46,"b":237},{"c":25,"x":12,"t":55,"b":238},
{"c":35,"x":1,"t":61,"b":215},{"c":35,"x":2,"t":54,"b":215},{"c":35,"x":3,"t":41,"b":216},{"c":35,"x":4,"t":28,"b":214},{"c":35,"x":5,"t":30,"b":204},{"c":35,"x":6,"t":34,"b":195},{"c":35,"x":7,"t":52,"b":195},{"c":35,"x":8,"t":63,"b":200},{"c":35,"x":10,"t":64,"b":209},{"c":35,"x":11,"t":52,"b":215},{"c":35,"x":12,"t":63,"b":213},
{"c":45,"x":1,"t":68,"b":196},{"c":45,"x":2,"t":61,"b":196},{"c":45,"x":3,"t":48,"b":198},{"c":45,"x":4,"t":34,"b":197},{"c":45,"x":5,"t":37,"b":189},{"c":45,"x":6,"t":46,"b":184},{"c":45,"x":7,"t":61,"b":183},{"c":45,"x":8,"t":70,"b":187},{"c":45,"x":10,"t":70,"b":193},{"c":45,"x":11,"t":59,"b":197},{"c":45,"x":12,"t":68,"b":193},
{"c":55,"x":1,"t":76,"b":182},{"c":55,"x":2,"t":70,"b":182},{"c":55,"x":3,"t":57,"b":183},{"c":55,"x":4,"t":42,"b":187},{"c":55,"x":5,"t":46,"b":181},{"c":55,"x":6,"t":52,"b":171},{"c":55,"x":7,"t":68,"b":169},{"c":55,"x":8,"t":76,"b":172},{"c":55,"x":10,"t":76,"b":179},{"c":55,"x":11,"t":66,"b":184},{"c":55,"x":12,"t":76,"b":180},
{"c":65,"x":1,"t":81,"b":167},{"c":65,"x":2,"t":79,"b":167},{"c":65,"x":3,"t":66,"b":169},{"c":65,"x":4,"t":52,"b":174},{"c":65,"x":5,"t":52,"b":168},{"c":65,"x":6,"t":61,"b":159},{"c":65,"x":7,"t":78,"b":157},{"c":65,"x":8,"t":82,"b":160},{"c":65,"x":10,"t":82,"b":165},{"c":65,"x":11,"t":72,"b":169},{"c":65,"x":12,"t":84,"b":166},
{"c":75,"x":1,"t":88,"b":153},{"c":75,"x":2,"t":86,"b":153},{"c":75,"x":3,"t":72,"b":155},{"c":75,"x":4,"t":57,"b":160},{"c":75,"x":5,"t":61,"b":153},{"c":75,"x":6,"t":68,"b":144},{"c":75,"x":7,"t":84,"b":144},{"c":75,"x":8,"t":88,"b":148},{"c":75,"x":10,"t":88,"b":152},{"c":75,"x":11,"t":81,"b":156},{"c":75,"x":12,"t":90,"b":151},
{"c":85,"x":1,"t":100,"b":136},{"c":85,"x":2,"t":95,"b":136},{"c":85,"x":3,"t":81,"b":139},{"c":85,"x":4,"t":66,"b":146},{"c":85,"x":5,"t":68,"b":142},{"c":85,"x":6,"t":81,"b":131},{"c":85,"x":7,"t":93,"b":132},{"c":85,"x":8,"t":95,"b":136},{"c":85,"x":10,"t":95,"b":139},{"c":85,"x":11,"t":96,"b":142},{"c":85,"x":12,"t":99,"b":136},
{"c":95,"x":2.43,"t":100,"b":100},{"c":95,"x":2.44,"t":100,"b":124},{"c":95,"x":3,"t":85,"b":128},{"c":95,"x":4,"t":72,"b":134},{"c":95,"x":5,"t":76,"b":127},{"c":95,"x":6,"t":90,"b":115},{"c":95,"x":6.5,"t":96,"b":110},{"c":95,"x":7,"t":100,"b":103},{"c":95,"x":7.2,"t":99,"b":99},
{"c":95,"s":"b","x":10.82,"t":124,"b":124},{"c":95,"s":"b","x":11.05,"t":124,"b":124},
{"c":105,"x":3.15,"t":99,"b":99},{"c":105,"x":4,"t":80,"b":120},{"c":105,"x":5,"t":82,"b":113},{"c":105,"x":5.6,"t":90,"b":108},{"c":105,"x":6,"t":99,"b":99},
{"c":-5,"s":"a","x":1,"t":0,"b":36},{"c":-5,"s":"a","x":2,"t":0,"b":28},{"c":-5,"s":"a","x":2.5,"t":0,"b":10},{"c":-5,"s":"a","x":2.85,"t":0,"b":0},
{"c":-5,"s":"b","x":6.2,"t":0,"b":0},{"c":-5,"s":"b","x":7,"t":0,"b":20},{"c":-5,"s":"b","x":8,"t":0,"b":39},{"c":-5,"s":"b","x":10,"t":0,"b":32},{"c":-5,"s":"b","x":11,"t":0,"b":19},{"c":-5,"s":"b","x":12,"t":0,"b":34},
{"c":-5,"s":"c","x":3.24,"t":400,"b":400},{"c":-5,"s":"c","x":4.19,"t":312,"b":400},{"c":-5,"s":"c","x":5,"t":282,"b":400},{"c":-5,"s":"c","x":6,"t":260,"b":400},{"c":-5,"s":"c","x":7,"t":265,"b":400},{"c":-5,"s":"c","x":8,"t":298,"b":400},{"c":-5,"s":"c","x":8.34,"t":312,"b":400},{"c":-5,"s":"c","x":8.35,"t":400,"b":400},
{"c":-15,"s":"a","x":1,"t":0,"b":25},{"c":-15,"s":"a","x":1.9,"t":0,"b":21},{"c":-15,"s":"a","x":2.3,"t":0,"b":5},{"c":-15,"s":"a","x":2.5,"t":0,"b":0},
{"c":-15,"s":"b","x":6.6,"t":0,"b":0},{"c":-15,"s":"b","x":7,"t":0,"b":16},{"c":-15,"s":"b","x":8,"t":0,"b":30},{"c":-15,"s":"b","x":9,"t":0,"b":19},{"c":-15,"s":"b","x":10,"t":0,"b":18},{"c":-15,"s":"b","x":10.5,"t":0,"b":8},{"c":-15,"s":"b","x":11,"t":0,"b":2},{"c":-15,"s":"b","x":12,"t":0,"b":19},
{"c":-25,"s":"a","x":1,"t":0,"b":10},{"c":-25,"s":"a","x":1.7,"t":0,"b":5},{"c":-25,"s":"a","x":2,"t":0,"b":0},
{"c":-25,"s":"b","x":7.1,"t":0,"b":0},{"c":-25,"s":"b","x":8,"t":0,"b":16},{"c":-25,"s":"b","x":9,"t":0,"b":5},{"c":-25,"s":"b","x":10,"t":0,"b":4},{"c":-25,"s":"b","x":10.3,"t":0,"b":0},
{"c":-25,"s":"c","x":11.8,"t":0,"b":0},{"c":-25,"s":"c","x":12,"t":0,"b":5}],
"p5":[
{"c":15,"x":1,"t":64,"b":382},{"c":15,"x":2,"t":54,"b":359},{"c":15,"x":2.35,"t":48,"b":312},{"c":15,"x":3,"t":40,"b":297},{"c":15,"x":4,"t":23,"b":276},{"c":15,"x":5,"t":18,"b":266},{"c":15,"x":6,"t":18,"b":261},{"c":15,"x":7,"t":63,"b":247},{"c":15,"x":8,"t":83,"b":249},{"c":15,"x":9,"t":90,"b":249},{"c":15,"x":9.92,"t":89,"b":310},{"c":15,"x":10,"t":88,"b":400},{"c":15,"x":11,"t":81,"b":400},{"c":15,"x":12,"t":72,"b":400},
{"c":25,"x":1,"t":79,"b":291},{"c":25,"x":2,"t":66,"b":273},{"c":25,"x":3,"t":54,"b":252},{"c":25,"x":4,"t":38,"b":247},{"c":25,"x":5,"t":36,"b":245},{"c":25,"x":6,"t":29,"b":242},{"c":25,"x":7,"t":70,"b":231},{"c":25,"x":8,"t":89,"b":229},{"c":25,"x":9,"t":94,"b":227},{"c":25,"x":10,"t":93,"b":248},{"c":25,"x":11,"t":90,"b":297},{"c":25,"x":12,"t":83,"b":304},
{"c":35,"x":1,"t":92,"b":255},{"c":35,"x":2,"t":80,"b":239},{"c":35,"x":3,"t":67,"b":232},{"c":35,"x":4,"t":47,"b":229},{"c":35,"x":5,"t":45,"b":228},{"c":35,"x":6,"t":41,"b":227},{"c":35,"x":7,"t":76,"b":215},{"c":35,"x":8,"t":94,"b":210},{"c":35,"x":9,"t":100,"b":206},{"c":35,"x":10,"t":96,"b":228},{"c":35,"x":11,"t":95,"b":257},{"c":35,"x":12,"t":94,"b":272},
{"c":45,"x":1,"t":104,"b":234},{"c":45,"x":2,"t":92,"b":219},{"c":45,"x":3,"t":76,"b":215},{"c":45,"x":4,"t":58,"b":212},{"c":45,"x":5,"t":52,"b":210},{"c":45,"x":6,"t":52,"b":208},{"c":45,"x":7,"t":79,"b":198},{"c":45,"x":8,"t":99,"b":194},{"c":45,"x":9,"t":105,"b":187},{"c":45,"x":10,"t":104,"b":206},{"c":45,"x":11,"t":103,"b":230},{"c":45,"x":12,"t":105,"b":246},
{"c":55,"x":1,"t":113,"b":217},{"c":55,"x":2,"t":104,"b":197},{"c":55,"x":3,"t":83,"b":195},{"c":55,"x":4,"t":66,"b":195},{"c":55,"x":5,"t":62,"b":196},{"c":55,"x":6,"t":63,"b":197},{"c":55,"x":7,"t":85,"b":177},{"c":55,"x":8,"t":105,"b":174},{"c":55,"x":9,"t":112,"b":169},{"c":55,"x":10,"t":112,"b":188},{"c":55,"x":11,"t":111,"b":217},{"c":55,"x":12,"t":114,"b":229},
{"c":65,"x":1,"t":121,"b":199},{"c":65,"x":2,"t":112,"b":180},{"c":65,"x":3,"t":90,"b":180},{"c":65,"x":4,"t":70,"b":181},{"c":65,"x":5,"t":67,"b":183},{"c":65,"x":6,"t":70,"b":184},{"c":65,"x":7,"t":94,"b":165},{"c":65,"x":8,"t":117,"b":158},{"c":65,"x":8.56,"t":120,"b":155},{"c":65,"x":9,"t":122,"b":134},{"c":65,"x":9.2,"t":122,"b":155},{"c":65,"x":10,"t":123,"b":172},{"c":65,"x":11,"t":124,"b":194},{"c":65,"x":12,"t":122,"b":212},
{"c":75,"x":1,"t":139,"b":175},{"c":75,"x":2,"t":123,"b":159},{"c":75,"x":3,"t":104,"b":159},{"c":75,"x":4,"t":82,"b":162},{"c":75,"x":5,"t":76,"b":166},{"c":75,"x":6,"t":79,"b":170},{"c":75,"x":7,"t":106,"b":155},{"c":75,"x":7.9,"t":124,"b":124},
{"c":75,"s":"r","x":10.2,"t":158,"b":158},{"c":75,"s":"r","x":10.64,"t":148,"b":165},{"c":75,"s":"r","x":11,"t":141,"b":177},{"c":75,"s":"r","x":12,"t":134,"b":194},
{"c":85,"x":3.23,"t":124,"b":124},{"c":85,"x":3.9,"t":98,"b":138},{"c":85,"x":5,"t":89,"b":147},{"c":85,"x":6,"t":87,"b":153},{"c":85,"x":7,"t":112,"b":131},{"c":85,"x":7.2,"t":124,"b":124},
{"c":85,"s":"r","x":11.1,"t":158,"b":158},{"c":85,"s":"r","x":11.66,"t":152,"b":162},{"c":85,"s":"r","x":12,"t":150,"b":168},
{"c":95,"x":5,"t":112,"b":118},{"c":95,"x":5.35,"t":101,"b":129},{"c":95,"x":6,"t":96,"b":136},{"c":95,"x":6.45,"t":124,"b":124},
{"c":-5,"s":"a","x":1,"t":0,"b":50},{"c":-5,"s":"a","x":2,"t":0,"b":41},{"c":-5,"s":"a","x":3,"t":0,"b":23},{"c":-5,"s":"a","x":4,"t":0,"b":11},{"c":-5,"s":"a","x":5,"t":0,"b":8},{"c":-5,"s":"a","x":6,"t":0,"b":2},{"c":-5,"s":"a","x":6.33,"t":0,"b":18},{"c":-5,"s":"a","x":7,"t":0,"b":54},{"c":-5,"s":"a","x":8,"t":0,"b":76},{"c":-5,"s":"a","x":9,"t":0,"b":83},{"c":-5,"s":"a","x":10,"t":0,"b":80},{"c":-5,"s":"a","x":11,"t":0,"b":71},{"c":-5,"s":"a","x":12,"t":0,"b":58},
{"c":-5,"s":"c","x":3.34,"t":400,"b":400},{"c":-5,"s":"c","x":3.87,"t":310,"b":400},{"c":-5,"s":"c","x":4.98,"t":296,"b":400},{"c":-5,"s":"c","x":6,"t":289,"b":400},{"c":-5,"s":"c","x":7,"t":277,"b":400},{"c":-5,"s":"c","x":8,"t":289,"b":400},{"c":-5,"s":"c","x":8.76,"t":311,"b":400},{"c":-5,"s":"c","x":8.77,"t":400,"b":400},
{"c":-15,"s":"a","x":1,"t":0,"b":36},{"c":-15,"s":"a","x":2,"t":0,"b":28},{"c":-15,"s":"a","x":3,"t":0,"b":17},{"c":-15,"s":"a","x":4,"t":0,"b":6},{"c":-15,"s":"a","x":5,"t":0,"b":3},{"c":-15,"s":"a","x":5.2,"t":0,"b":0},
{"c":-15,"s":"b","x":6.45,"t":0,"b":0},{"c":-15,"s":"b","x":7,"t":0,"b":36},{"c":-15,"s":"b","x":8,"t":0,"b":70},{"c":-15,"s":"b","x":9,"t":0,"b":78},{"c":-15,"s":"b","x":10,"t":0,"b":76},{"c":-15,"s":"b","x":11,"t":0,"b":63},{"c":-15,"s":"b","x":12,"t":0,"b":47},
{"c":-15,"s":"c","x":4.82,"t":400,"b":400},{"c":-15,"s":"c","x":5.95,"t":344,"b":400},{"c":-15,"s":"c","x":6.82,"t":310,"b":400},{"c":-15,"s":"c","x":7.05,"t":311,"b":400},{"c":-15,"s":"c","x":7.23,"t":400,"b":400},
{"c":-25,"s":"a","x":1,"t":0,"b":23},{"c":-25,"s":"a","x":2,"t":0,"b":18},{"c":-25,"s":"a","x":2.6,"t":0,"b":8},{"c":-25,"s":"a","x":3,"t":0,"b":0},
{"c":-25,"s":"b","x":6.86,"t":0,"b":0},{"c":-25,"s":"b","x":7,"t":0,"b":22},{"c":-25,"s":"b","x":8,"t":0,"b":62},{"c":-25,"s":"b","x":9,"t":0,"b":70},{"c":-25,"s":"b","x":10,"t":0,"b":70},{"c":-25,"s":"b","x":11,"t":0,"b":52},{"c":-25,"s":"b","x":12,"t":0,"b":38},
{"c":-35,"s":"a","x":1,"t":0,"b":9},{"c":-35,"s":"a","x":1.6,"t":0,"b":6},{"c":-35,"s":"a","x":2.2,"t":0,"b":3},{"c":-35,"s":"a","x":2.6,"t":0,"b":0},
{"c":-35,"s":"b","x":7.3,"t":0,"b":0},{"c":-35,"s":"b","x":8,"t":0,"b":52},{"c":-35,"s":"b","x":9,"t":0,"b":63},{"c":-35,"s":"b","x":10,"t":0,"b":60},{"c":-35,"s":"b","x":11,"t":0,"b":41},{"c":-35,"s":"b","x":12,"t":0,"b":27},
{"c":-45,"s":"b","x":7.7,"t":0,"b":0},{"c":-45,"s":"b","x":8,"t":0,"b":43},{"c":-45,"s":"b","x":9,"t":0,"b":54},{"c":-45,"s":"b","x":10,"t":0,"b":50},{"c":-45,"s":"b","x":11,"t":0,"b":29},{"c":-45,"s":"b","x":12,"t":0,"b":16},
{"c":-55,"s":"b","x":8.05,"t":0,"b":0},{"c":-55,"s":"b","x":9,"t":0,"b":47},{"c":-55,"s":"b","x":10,"t":0,"b":41},{"c":-55,"s":"b","x":11,"t":0,"b":18},{"c":-55,"s":"b","x":12,"t":0,"b":7},
{"c":-65,"s":"b","x":8.3,"t":0,"b":0},{"c":-65,"s":"b","x":9,"t":0,"b":38},{"c":-65,"s":"b","x":10,"t":0,"b":29},{"c":-65,"s":"b","x":11,"t":0,"b":9},{"c":-65,"s":"b","x":11.5,"t":0,"b":0},
{"c":-75,"s":"b","x":8.5,"t":0,"b":0},{"c":-75,"s":"b","x":9,"t":0,"b":29},{"c":-75,"s":"b","x":10,"t":0,"b":18},{"c":-75,"s":"b","x":11,"t":0,"b":2},{"c":-75,"s":"b","x":11.05,"t":0,"b":0},
{"c":-85,"s":"b","x":8.8,"t":0,"b":0},{"c":-85,"s":"b","x":9,"t":0,"b":18},{"c":-85,"s":"b","x":10,"t":0,"b":7},{"c":-85,"s":"b","x":10.5,"t":0,"b":0},
{"c":-95,"s":"b","x":9.2,"t":0,"b":0},{"c":-95,"s":"b","x":9.6,"t":0,"b":6},{"c":-95,"s":"b","x":10,"t":0,"b":2},{"c":-95,"s":"b","x":10.25,"t":0,"b":0}],
"p6":[
{"c":15,"x":1,"t":65,"b":310},{"c":15,"x":2,"t":51,"b":356},{"c":15,"x":2.3,"t":47,"b":311},{"c":15,"x":3,"t":36,"b":280},{"c":15,"x":4,"t":23,"b":273},{"c":15,"x":5,"t":16,"b":265},{"c":15,"x":5.6,"t":15,"b":252},{"c":15,"x":6,"t":14,"b":243},{"c":15,"x":7,"t":58,"b":237},{"c":15,"x":8,"t":83,"b":235},{"c":15,"x":9,"t":90,"b":241},{"c":15,"x":9.5,"t":92,"b":250},{"c":15,"x":10,"t":94,"b":280},{"c":15,"x":11,"t":87,"b":310},{"c":15,"x":11.4,"t":85,"b":313},{"c":15,"x":12,"t":84,"b":334},
{"c":25,"x":1,"t":74,"b":253},{"c":25,"x":2,"t":63,"b":252},{"c":25,"x":3,"t":43,"b":246},{"c":25,"x":4,"t":36,"b":243},{"c":25,"x":5,"t":29,"b":239},{"c":25,"x":6,"t":32,"b":228},{"c":25,"x":7,"t":66,"b":218},{"c":25,"x":8,"t":90,"b":216},{"c":25,"x":9,"t":96,"b":217},{"c":25,"x":10,"t":100,"b":235},{"c":25,"x":11,"t":95,"b":252},{"c":25,"x":12,"t":95,"b":269},
{"c":35,"x":1,"t":83,"b":230},{"c":35,"x":2,"t":72,"b":226},{"c":35,"x":3,"t":54,"b":223},{"c":35,"x":4,"t":43,"b":221},{"c":35,"x":5,"t":36,"b":221},{"c":35,"x":6,"t":43,"b":211},{"c":35,"x":7,"t":74,"b":203},{"c":35,"x":8,"t":95,"b":197},{"c":35,"x":9,"t":105,"b":197},{"c":35,"x":10,"t":106,"b":215},{"c":35,"x":11,"t":104,"b":230},{"c":35,"x":12,"t":103,"b":241},
{"c":45,"x":1,"t":92,"b":209},{"c":45,"x":2,"t":81,"b":205},{"c":45,"x":3,"t":63,"b":205},{"c":45,"x":4,"t":52,"b":205},{"c":45,"x":5,"t":47,"b":206},{"c":45,"x":6,"t":54,"b":198},{"c":45,"x":7,"t":83,"b":188},{"c":45,"x":8,"t":103,"b":180},{"c":45,"x":9,"t":112,"b":180},{"c":45,"x":10,"t":112,"b":195},{"c":45,"x":11,"t":111,"b":206},{"c":45,"x":12,"t":110,"b":221},
{"c":55,"x":1,"t":105,"b":190},{"c":55,"x":2,"t":92,"b":187},{"c":55,"x":3,"t":76,"b":190},{"c":55,"x":4,"t":64,"b":192},{"c":55,"x":5,"t":58,"b":190},{"c":55,"x":6,"t":63,"b":183},{"c":55,"x":7,"t":90,"b":177},{"c":55,"x":8,"t":110,"b":170},{"c":55,"x":9,"t":124,"b":164},{"c":55,"x":10,"t":123,"b":178},{"c":55,"x":11,"t":122,"b":190},{"c":55,"x":12,"t":122,"b":203},
{"c":65,"x":1,"t":120,"b":171},{"c":65,"x":2,"t":112,"b":170},{"c":65,"x":3,"t":96,"b":171},{"c":65,"x":4,"t":81,"b":173},{"c":65,"x":5,"t":74,"b":177},{"c":65,"x":6,"t":76,"b":177},{"c":65,"x":7,"t":96,"b":163},{"c":65,"x":8,"t":120,"b":151},{"c":65,"x":9,"t":124,"b":124},
{"c":65,"s":"r","x":9.9,"t":158,"b":158},{"c":65,"s":"r","x":10.5,"t":150,"b":161},{"c":65,"s":"r","x":11,"t":143,"b":175},{"c":65,"s":"r","x":12,"t":139,"b":181},
{"c":75,"x":1.8,"t":124,"b":124},{"c":75,"x":2,"t":116,"b":140},{"c":75,"x":3,"t":100,"b":154},{"c":75,"x":4,"t":87,"b":154},{"c":75,"x":5,"t":79,"b":163},{"c":75,"x":6,"t":79,"b":165},{"c":75,"x":7,"t":105,"b":152},{"c":75,"x":7.8,"t":124,"b":124},
{"c":85,"x":3,"t":124,"b":124},{"c":85,"x":4,"t":99,"b":132},{"c":85,"x":5,"t":88,"b":145},{"c":85,"x":6,"t":85,"b":152},{"c":85,"x":6.45,"t":98,"b":142},{"c":85,"x":7,"t":112,"b":130},{"c":85,"x":7.17,"t":124,"b":124},
{"c":95,"x":4.6,"t":123,"b":125},{"c":95,"x":4.85,"t":99,"b":130},{"c":95,"x":5,"t":96,"b":131},{"c":95,"x":6,"t":96,"b":134},{"c":95,"x":6.5,"t":125,"b":125},
{"c":-5,"s":"a","x":1,"t":0,"b":58},{"c":-5,"s":"a","x":2,"t":0,"b":38},{"c":-5,"s":"a","x":3,"t":0,"b":23},{"c":-5,"s":"a","x":4,"t":0,"b":16},{"c":-5,"s":"a","x":5,"t":0,"b":5},{"c":-5,"s":"a","x":6,"t":0,"b":2},{"c":-5,"s":"a","x":6.1,"t":0,"b":4},{"c":-5,"s":"a","x":7,"t":0,"b":54},{"c":-5,"s":"a","x":8,"t":0,"b":76},{"c":-5,"s":"a","x":9,"t":0,"b":84},{"c":-5,"s":"a","x":10,"t":0,"b":84},{"c":-5,"s":"a","x":11,"t":0,"b":74},{"c":-5,"s":"a","x":12,"t":0,"b":72},
{"c":-5,"s":"c","x":3.5,"t":400,"b":400},{"c":-5,"s":"c","x":3.99,"t":335,"b":400},{"c":-5,"s":"c","x":4.35,"t":312,"b":400},{"c":-5,"s":"c","x":5,"t":302,"b":400},{"c":-5,"s":"c","x":6,"t":278,"b":400},{"c":-5,"s":"c","x":7,"t":258,"b":400},{"c":-5,"s":"c","x":8,"t":269,"b":400},{"c":-5,"s":"c","x":8.83,"t":297,"b":400},{"c":-5,"s":"c","x":9.03,"t":310,"b":310},
{"c":-15,"s":"a","x":1,"t":0,"b":45},{"c":-15,"s":"a","x":2,"t":0,"b":33},{"c":-15,"s":"a","x":3,"t":0,"b":22},{"c":-15,"s":"a","x":4,"t":0,"b":14},{"c":-15,"s":"a","x":5,"t":0,"b":7},{"c":-15,"s":"a","x":5.8,"t":0,"b":0},
{"c":-15,"s":"b","x":6.2,"t":0,"b":0},{"c":-15,"s":"b","x":7,"t":0,"b":45},{"c":-15,"s":"b","x":8,"t":0,"b":70},{"c":-15,"s":"b","x":9,"t":0,"b":76},{"c":-15,"s":"b","x":10,"t":0,"b":78},{"c":-15,"s":"b","x":11,"t":0,"b":65},{"c":-15,"s":"b","x":12,"t":0,"b":61},
{"c":-15,"s":"c","x":5.65,"t":400,"b":400},{"c":-15,"s":"c","x":6.17,"t":311,"b":400},{"c":-15,"s":"c","x":7,"t":299,"b":400},{"c":-15,"s":"c","x":7.41,"t":309,"b":400},{"c":-15,"s":"c","x":7.48,"t":311,"b":311},
{"c":-25,"s":"a","x":1,"t":0,"b":32},{"c":-25,"s":"a","x":2,"t":0,"b":20},{"c":-25,"s":"a","x":2.9,"t":0,"b":7},{"c":-25,"s":"a","x":3.3,"t":0,"b":0},
{"c":-25,"s":"b","x":6.5,"t":0,"b":0},{"c":-25,"s":"b","x":7,"t":0,"b":29},{"c":-25,"s":"b","x":8,"t":0,"b":58},{"c":-25,"s":"b","x":9,"t":0,"b":66},{"c":-25,"s":"b","x":10,"t":0,"b":68},{"c":-25,"s":"b","x":11,"t":0,"b":54},{"c":-25,"s":"b","x":12,"t":0,"b":47},
{"c":-35,"s":"a","x":1,"t":0,"b":18},{"c":-35,"s":"a","x":2,"t":0,"b":8},{"c":-35,"s":"a","x":2.5,"t":0,"b":0},
{"c":-35,"s":"b","x":6.9,"t":0,"b":0},{"c":-35,"s":"b","x":7,"t":0,"b":18},{"c":-35,"s":"b","x":8,"t":0,"b":47},{"c":-35,"s":"b","x":9,"t":0,"b":53},{"c":-35,"s":"b","x":10,"t":0,"b":56},{"c":-35,"s":"b","x":11,"t":0,"b":42},{"c":-35,"s":"b","x":12,"t":0,"b":34},
{"c":-45,"s":"a","x":1,"t":0,"b":5},{"c":-45,"s":"a","x":1.8,"t":0,"b":2},{"c":-45,"s":"a","x":2,"t":0,"b":0},
{"c":-45,"s":"b","x":7.3,"t":0,"b":0},{"c":-45,"s":"b","x":8,"t":0,"b":36},{"c":-45,"s":"b","x":9,"t":0,"b":40},{"c":-45,"s":"b","x":10,"t":0,"b":42},{"c":-45,"s":"b","x":11,"t":0,"b":30},{"c":-45,"s":"b","x":12,"t":0,"b":20},
{"c":-55,"s":"b","x":7.7,"t":0,"b":0},{"c":-55,"s":"b","x":8,"t":0,"b":18},{"c":-55,"s":"b","x":9,"t":0,"b":32},{"c":-55,"s":"b","x":10,"t":0,"b":24},{"c":-55,"s":"b","x":11,"t":0,"b":10},{"c":-55,"s":"b","x":12,"t":0,"b":7},
{"c":-65,"s":"b","x":8,"t":0,"b":0},{"c":-65,"s":"b","x":9,"t":0,"b":22},{"c":-65,"s":"b","x":10,"t":0,"b":8},{"c":-65,"s":"b","x":10.6,"t":0,"b":0},
{"c":-75,"s":"b","x":8.3,"t":0,"b":0},{"c":-75,"s":"b","x":9,"t":0,"b":13},{"c":-75,"s":"b","x":9.5,"t":0,"b":0}]
},
"concat":[
{"width":503,"height":297,"title":{"text":"TAO ADCP","offset":0},"view":{"fill":"#ffeeee"},"data":{"name":"p1"},"encoding":{"x":{"field":"x","type":"quantitative","title":null,"scale":{"domain":[1,12],"nice":false},"axis":{"values":[1,2,3,4,5,6,7,8,9,10,11,12],"labelExpr":"['J','F','M','A','M','J','J','A','S','O','N','D'][datum.value-1]"}},"y":{"field":"t","type":"quantitative","scale":{"domain":[0,400],"reverse":true,"nice":false},"axis":{"title":"Depth (m)","values":[0,50,100,150,200,250,300,350,400],"titlePadding":15}}},"layer":[
{"mark":{"type":"area","orient":"vertical"},"encoding":{"y2":{"field":"b"},"color":{"field":"c","type":"quantitative","legend":null,"scale":{"domain":[-150,-75,0,75,150],"range":["#00004c","#0000ff","#ffffff","#ff0000","#800000"],"interpolate":"rgb"}},"detail":[{"field":"c"},{"field":"s"}]}},
{"transform":[{"filter":"datum.c>-6"}],"mark":{"type":"line","color":"#111","strokeWidth":1.5},"encoding":{"detail":[{"field":"c"},{"field":"s"}]}},
{"transform":[{"filter":"datum.c>-6 && !datum.n"}],"mark":{"type":"line","color":"#111","strokeWidth":1.5},"encoding":{"y":{"field":"b","type":"quantitative"},"detail":[{"field":"c"},{"field":"s"}]}},
{"transform":[{"filter":"datum.c<-6"}],"mark":{"type":"line","color":"#111","strokeWidth":1.5,"strokeDash":[6,3]},"encoding":{"detail":[{"field":"c"},{"field":"s"}]}},
{"transform":[{"filter":"datum.c<-6 && !datum.n"}],"mark":{"type":"line","color":"#111","strokeWidth":1.5,"strokeDash":[6,3]},"encoding":{"y":{"field":"b","type":"quantitative"},"detail":[{"field":"c"},{"field":"s"}]}},
{"data":{"name":"mask"},"mark":{"type":"area","orient":"vertical","color":"#ffffff"},"encoding":{"y2":{"field":"b"},"detail":{"field":"s"}}},
{"data":{"name":"l1"},"mark":{"type":"text","font":"DejaVu Sans","fontSize":16,"strokeWidth":4},"encoding":{"y":{"field":"y","type":"quantitative"},"text":{"field":"k"},"angle":{"field":"a","type":"quantitative","scale":null},"stroke":{"field":"c","type":"quantitative","legend":null,"scale":{"domain":[-150,-75,0,75,150],"range":["#00004c","#0000ff","#ffffff","#ff0000","#800000"],"interpolate":"rgb"}}}},
{"data":{"name":"l1"},"mark":{"type":"text","font":"DejaVu Sans","fontSize":16,"color":"#222"},"encoding":{"y":{"field":"y","type":"quantitative"},"text":{"field":"k"},"angle":{"field":"a","type":"quantitative","scale":null}}},
{"data":{"values":[{"f":1}]},"mark":{"type":"rect","fill":null,"stroke":"#000","strokeWidth":1},"encoding":{"x":{"datum":1,"type":"quantitative"},"x2":{"datum":12},"y":{"datum":0,"type":"quantitative"},"y2":{"datum":400}}}]},
{"width":503,"height":297,"title":{"text":"POP","offset":2},"view":{"fill":"#ffeeee"},"data":{"name":"p2"},"encoding":{"x":{"field":"x","type":"quantitative","title":null,"scale":{"domain":[1,12],"nice":false},"axis":{"values":[1,2,3,4,5,6,7,8,9,10,11,12],"labelExpr":"['J','F','M','A','M','J','J','A','S','O','N','D'][datum.value-1]"}},"y":{"field":"t","type":"quantitative","scale":{"domain":[0,400],"reverse":true,"nice":false},"axis":{"title":null,"labels":false,"values":[0,50,100,150,200,250,300,350,400]}}},"layer":[
{"mark":{"type":"area","orient":"vertical"},"encoding":{"y2":{"field":"b"},"color":{"field":"c","type":"quantitative","legend":null,"scale":{"domain":[-150,-75,0,75,150],"range":["#00004c","#0000ff","#ffffff","#ff0000","#800000"],"interpolate":"rgb"}},"detail":[{"field":"c"},{"field":"s"}]}},
{"transform":[{"filter":"datum.c>-6"}],"mark":{"type":"line","color":"#111","strokeWidth":1.5},"encoding":{"detail":[{"field":"c"},{"field":"s"}]}},
{"transform":[{"filter":"datum.c>-6"}],"mark":{"type":"line","color":"#111","strokeWidth":1.5},"encoding":{"y":{"field":"b","type":"quantitative"},"detail":[{"field":"c"},{"field":"s"}]}},
{"transform":[{"filter":"datum.c<-6"}],"mark":{"type":"line","color":"#111","strokeWidth":1.5,"strokeDash":[6,3]},"encoding":{"detail":[{"field":"c"},{"field":"s"}]}},
{"transform":[{"filter":"datum.c<-6"}],"mark":{"type":"line","color":"#111","strokeWidth":1.5,"strokeDash":[6,3]},"encoding":{"y":{"field":"b","type":"quantitative"},"detail":[{"field":"c"},{"field":"s"}]}},
{"data":{"name":"l2"},"mark":{"type":"text","font":"DejaVu Sans","fontSize":16,"strokeWidth":4},"encoding":{"y":{"field":"y","type":"quantitative"},"text":{"field":"k"},"angle":{"field":"a","type":"quantitative","scale":null},"stroke":{"field":"c","type":"quantitative","legend":null,"scale":{"domain":[-150,-75,0,75,150],"range":["#00004c","#0000ff","#ffffff","#ff0000","#800000"],"interpolate":"rgb"}}}},
{"data":{"name":"l2"},"mark":{"type":"text","font":"DejaVu Sans","fontSize":16,"color":"#222"},"encoding":{"y":{"field":"y","type":"quantitative"},"text":{"field":"k"},"angle":{"field":"a","type":"quantitative","scale":null}}},
{"data":{"values":[{"f":1}]},"mark":{"type":"rect","fill":null,"stroke":"#000","strokeWidth":1},"encoding":{"x":{"datum":1,"type":"quantitative"},"x2":{"datum":12},"y":{"datum":0,"type":"quantitative"},"y2":{"datum":400}}}]},
{"width":78,"height":297,"data":{"name":"tx"},"transform":[{"filter":"datum.r==1"}],"mark":{"type":"text","font":"Liberation Sans","fontSize":50,"align":"left","baseline":"alphabetic","color":"#000","clip":true},"encoding":{"x":{"field":"x","type":"quantitative","axis":null,"scale":{"domain":[0,78],"nice":false}},"y":{"field":"y","type":"quantitative","axis":null,"scale":{"domain":[0,297],"reverse":true,"nice":false}},"text":{"field":"k"}}},
{"width":503,"height":297,"title":{"text":"MOM6 : hycom1_N75","offset":0},"view":{"fill":"#ffeeee"},"data":{"name":"p3"},"encoding":{"x":{"field":"x","type":"quantitative","title":null,"scale":{"domain":[1,12],"nice":false},"axis":{"values":[1,2,3,4,5,6,7,8,9,10,11,12],"labelExpr":"['J','F','M','A','M','J','J','A','S','O','N','D'][datum.value-1]"}},"y":{"field":"t","type":"quantitative","scale":{"domain":[0,400],"reverse":true,"nice":false},"axis":{"title":null,"values":[0,50,100,150,200,250,300,350,400]}}},"layer":[
{"mark":{"type":"area","orient":"vertical"},"encoding":{"y2":{"field":"b"},"color":{"field":"c","type":"quantitative","legend":null,"scale":{"domain":[-150,-75,0,75,150],"range":["#00004c","#0000ff","#ffffff","#ff0000","#800000"],"interpolate":"rgb"}},"detail":[{"field":"c"},{"field":"s"}]}},
{"transform":[{"filter":"datum.c>-6"}],"mark":{"type":"line","color":"#111","strokeWidth":1.5},"encoding":{"detail":[{"field":"c"},{"field":"s"}]}},
{"transform":[{"filter":"datum.c>-6"}],"mark":{"type":"line","color":"#111","strokeWidth":1.5},"encoding":{"y":{"field":"b","type":"quantitative"},"detail":[{"field":"c"},{"field":"s"}]}},
{"transform":[{"filter":"datum.c<-6"}],"mark":{"type":"line","color":"#111","strokeWidth":1.5,"strokeDash":[6,3]},"encoding":{"detail":[{"field":"c"},{"field":"s"}]}},
{"transform":[{"filter":"datum.c<-6"}],"mark":{"type":"line","color":"#111","strokeWidth":1.5,"strokeDash":[6,3]},"encoding":{"y":{"field":"b","type":"quantitative"},"detail":[{"field":"c"},{"field":"s"}]}},
{"data":{"name":"l3"},"mark":{"type":"text","font":"DejaVu Sans","fontSize":16,"strokeWidth":4},"encoding":{"y":{"field":"y","type":"quantitative"},"text":{"field":"k"},"angle":{"field":"a","type":"quantitative","scale":null},"stroke":{"field":"c","type":"quantitative","legend":null,"scale":{"domain":[-150,-75,0,75,150],"range":["#00004c","#0000ff","#ffffff","#ff0000","#800000"],"interpolate":"rgb"}}}},
{"data":{"name":"l3"},"mark":{"type":"text","font":"DejaVu Sans","fontSize":16,"color":"#222"},"encoding":{"y":{"field":"y","type":"quantitative"},"text":{"field":"k"},"angle":{"field":"a","type":"quantitative","scale":null}}},
{"data":{"values":[{"f":1}]},"mark":{"type":"rect","fill":null,"stroke":"#000","strokeWidth":1},"encoding":{"x":{"datum":1,"type":"quantitative"},"x2":{"datum":12},"y":{"datum":0,"type":"quantitative"},"y2":{"datum":400}}}]},
{"width":503,"height":297,"title":{"text":"MOM6 : zstar_N65","offset":1},"view":{"fill":"#ffeeee"},"data":{"name":"p4"},"encoding":{"x":{"field":"x","type":"quantitative","title":null,"scale":{"domain":[1,12],"nice":false},"axis":{"values":[1,2,3,4,5,6,7,8,9,10,11,12],"labelExpr":"['J','F','M','A','M','J','J','A','S','O','N','D'][datum.value-1]"}},"y":{"field":"t","type":"quantitative","scale":{"domain":[0,400],"reverse":true,"nice":false},"axis":{"title":null,"labels":false,"values":[0,50,100,150,200,250,300,350,400]}}},"layer":[
{"mark":{"type":"area","orient":"vertical"},"encoding":{"y2":{"field":"b"},"color":{"field":"c","type":"quantitative","legend":null,"scale":{"domain":[-150,-75,0,75,150],"range":["#00004c","#0000ff","#ffffff","#ff0000","#800000"],"interpolate":"rgb"}},"detail":[{"field":"c"},{"field":"s"}]}},
{"transform":[{"filter":"datum.c>-6"}],"mark":{"type":"line","color":"#111","strokeWidth":1.5},"encoding":{"detail":[{"field":"c"},{"field":"s"}]}},
{"transform":[{"filter":"datum.c>-6"}],"mark":{"type":"line","color":"#111","strokeWidth":1.5},"encoding":{"y":{"field":"b","type":"quantitative"},"detail":[{"field":"c"},{"field":"s"}]}},
{"transform":[{"filter":"datum.c<-6"}],"mark":{"type":"line","color":"#111","strokeWidth":1.5,"strokeDash":[6,3]},"encoding":{"detail":[{"field":"c"},{"field":"s"}]}},
{"transform":[{"filter":"datum.c<-6"}],"mark":{"type":"line","color":"#111","strokeWidth":1.5,"strokeDash":[6,3]},"encoding":{"y":{"field":"b","type":"quantitative"},"detail":[{"field":"c"},{"field":"s"}]}},
{"data":{"name":"l4"},"mark":{"type":"text","font":"DejaVu Sans","fontSize":16,"strokeWidth":4},"encoding":{"y":{"field":"y","type":"quantitative"},"text":{"field":"k"},"angle":{"field":"a","type":"quantitative","scale":null},"stroke":{"field":"c","type":"quantitative","legend":null,"scale":{"domain":[-150,-75,0,75,150],"range":["#00004c","#0000ff","#ffffff","#ff0000","#800000"],"interpolate":"rgb"}}}},
{"data":{"name":"l4"},"mark":{"type":"text","font":"DejaVu Sans","fontSize":16,"color":"#222"},"encoding":{"y":{"field":"y","type":"quantitative"},"text":{"field":"k"},"angle":{"field":"a","type":"quantitative","scale":null}}},
{"data":{"values":[{"f":1}]},"mark":{"type":"rect","fill":null,"stroke":"#000","strokeWidth":1},"encoding":{"x":{"datum":1,"type":"quantitative"},"x2":{"datum":12},"y":{"datum":0,"type":"quantitative"},"y2":{"datum":400}}}]},
{"width":78,"height":297,"data":{"name":"tx"},"transform":[{"filter":"datum.r==2"}],"mark":{"type":"text","font":"Liberation Sans","fontSize":50,"align":"left","baseline":"alphabetic","color":"#000","clip":true},"encoding":{"x":{"field":"x","type":"quantitative","axis":null,"scale":{"domain":[0,78],"nice":false}},"y":{"field":"y","type":"quantitative","axis":null,"scale":{"domain":[0,297],"reverse":true,"nice":false}},"text":{"field":"k"}}},
{"width":503,"height":297,"title":{"text":"MOM6 : 055","offset":0},"view":{"fill":"#ffeeee"},"data":{"name":"p5"},"encoding":{"x":{"field":"x","type":"quantitative","title":null,"scale":{"domain":[1,12],"nice":false},"axis":{"values":[1,2,3,4,5,6,7,8,9,10,11,12],"labelExpr":"['J','F','M','A','M','J','J','A','S','O','N','D'][datum.value-1]"}},"y":{"field":"t","type":"quantitative","scale":{"domain":[0,400],"reverse":true,"nice":false},"axis":{"title":null,"values":[0,50,100,150,200,250,300,350,400]}}},"layer":[
{"mark":{"type":"area","orient":"vertical"},"encoding":{"y2":{"field":"b"},"color":{"field":"c","type":"quantitative","legend":null,"scale":{"domain":[-150,-75,0,75,150],"range":["#00004c","#0000ff","#ffffff","#ff0000","#800000"],"interpolate":"rgb"}},"detail":[{"field":"c"},{"field":"s"}]}},
{"transform":[{"filter":"datum.c>-6"}],"mark":{"type":"line","color":"#111","strokeWidth":1.5},"encoding":{"detail":[{"field":"c"},{"field":"s"}]}},
{"transform":[{"filter":"datum.c>-6"}],"mark":{"type":"line","color":"#111","strokeWidth":1.5},"encoding":{"y":{"field":"b","type":"quantitative"},"detail":[{"field":"c"},{"field":"s"}]}},
{"transform":[{"filter":"datum.c<-6"}],"mark":{"type":"line","color":"#111","strokeWidth":1.5,"strokeDash":[6,3]},"encoding":{"detail":[{"field":"c"},{"field":"s"}]}},
{"transform":[{"filter":"datum.c<-6"}],"mark":{"type":"line","color":"#111","strokeWidth":1.5,"strokeDash":[6,3]},"encoding":{"y":{"field":"b","type":"quantitative"},"detail":[{"field":"c"},{"field":"s"}]}},
{"data":{"name":"l5"},"mark":{"type":"text","font":"DejaVu Sans","fontSize":16,"strokeWidth":4},"encoding":{"y":{"field":"y","type":"quantitative"},"text":{"field":"k"},"angle":{"field":"a","type":"quantitative","scale":null},"stroke":{"field":"c","type":"quantitative","legend":null,"scale":{"domain":[-150,-75,0,75,150],"range":["#00004c","#0000ff","#ffffff","#ff0000","#800000"],"interpolate":"rgb"}}}},
{"data":{"name":"l5"},"mark":{"type":"text","font":"DejaVu Sans","fontSize":16,"color":"#222"},"encoding":{"y":{"field":"y","type":"quantitative"},"text":{"field":"k"},"angle":{"field":"a","type":"quantitative","scale":null}}},
{"data":{"values":[{"f":1}]},"mark":{"type":"rect","fill":null,"stroke":"#000","strokeWidth":1},"encoding":{"x":{"datum":1,"type":"quantitative"},"x2":{"datum":12},"y":{"datum":0,"type":"quantitative"},"y2":{"datum":400}}}]},
{"width":503,"height":297,"title":{"text":"MOM6 : 054","offset":4},"view":{"fill":"#ffeeee"},"data":{"name":"p6"},"encoding":{"x":{"field":"x","type":"quantitative","title":null,"scale":{"domain":[1,12],"nice":false},"axis":{"values":[1,2,3,4,5,6,7,8,9,10,11,12],"labelExpr":"['J','F','M','A','M','J','J','A','S','O','N','D'][datum.value-1]"}},"y":{"field":"t","type":"quantitative","scale":{"domain":[0,400],"reverse":true,"nice":false},"axis":{"title":null,"labels":false,"values":[0,50,100,150,200,250,300,350,400]}}},"layer":[
{"mark":{"type":"area","orient":"vertical"},"encoding":{"y2":{"field":"b"},"color":{"field":"c","type":"quantitative","legend":null,"scale":{"domain":[-150,-75,0,75,150],"range":["#00004c","#0000ff","#ffffff","#ff0000","#800000"],"interpolate":"rgb"}},"detail":[{"field":"c"},{"field":"s"}]}},
{"transform":[{"filter":"datum.c>-6"}],"mark":{"type":"line","color":"#111","strokeWidth":1.5},"encoding":{"detail":[{"field":"c"},{"field":"s"}]}},
{"transform":[{"filter":"datum.c>-6"}],"mark":{"type":"line","color":"#111","strokeWidth":1.5},"encoding":{"y":{"field":"b","type":"quantitative"},"detail":[{"field":"c"},{"field":"s"}]}},
{"transform":[{"filter":"datum.c<-6"}],"mark":{"type":"line","color":"#111","strokeWidth":1.5,"strokeDash":[6,3]},"encoding":{"detail":[{"field":"c"},{"field":"s"}]}},
{"transform":[{"filter":"datum.c<-6"}],"mark":{"type":"line","color":"#111","strokeWidth":1.5,"strokeDash":[6,3]},"encoding":{"y":{"field":"b","type":"quantitative"},"detail":[{"field":"c"},{"field":"s"}]}},
{"data":{"name":"l6"},"mark":{"type":"text","font":"DejaVu Sans","fontSize":16,"strokeWidth":4},"encoding":{"y":{"field":"y","type":"quantitative"},"text":{"field":"k"},"angle":{"field":"a","type":"quantitative","scale":null},"stroke":{"field":"c","type":"quantitative","legend":null,"scale":{"domain":[-150,-75,0,75,150],"range":["#00004c","#0000ff","#ffffff","#ff0000","#800000"],"interpolate":"rgb"}}}},
{"data":{"name":"l6"},"mark":{"type":"text","font":"DejaVu Sans","fontSize":16,"color":"#222"},"encoding":{"y":{"field":"y","type":"quantitative"},"text":{"field":"k"},"angle":{"field":"a","type":"quantitative","scale":null}}},
{"data":{"values":[{"f":1}]},"mark":{"type":"rect","fill":null,"stroke":"#000","strokeWidth":1},"encoding":{"x":{"datum":1,"type":"quantitative"},"x2":{"datum":12},"y":{"datum":0,"type":"quantitative"},"y2":{"datum":400}}}]},
{"width":21,"height":297,"data":{"name":"cb"},"encoding":{"x":{"datum":5,"type":"quantitative","axis":null,"scale":{"domain":[0,21],"nice":false}},"x2":{"datum":21},"y":{"field":"l","type":"quantitative","scale":{"domain":[-150,150],"nice":false},"axis":{"title":null,"orient":"right","values":[-120,-80,-40,0,40,80,120],"labelExpr":"replace(datum.label,'-','−')"}},"y2":{"field":"h"}},"layer":[{"mark":{"type":"rect"},"encoding":{"color":{"field":"c","type":"quantitative","legend":null,"scale":{"domain":[-150,-75,0,75,150],"range":["#00004c","#0000ff","#ffffff","#ff0000","#800000"],"interpolate":"rgb"}}}},{"data":{"values":[{"f":1}]},"mark":{"type":"rect","fill":null,"stroke":"#000","strokeWidth":1},"encoding":{"y":{"datum":-150,"type":"quantitative"},"y2":{"datum":150}}}]}
]}
